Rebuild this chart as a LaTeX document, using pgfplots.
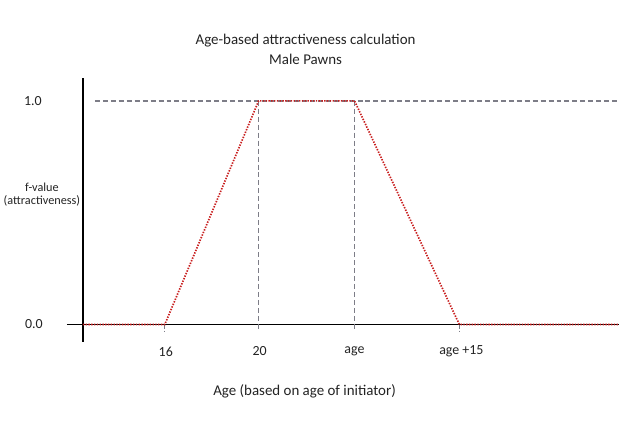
\documentclass[border=0pt]{standalone}
\usepackage{pgfplots}
\pgfplotsset{compat=1.18}
\usepackage{fontspec}
\setmainfont{Carlito}
\definecolor{dotred}{RGB}{200,30,30}
\definecolor{dashgray}{RGB}{125,125,135}
\definecolor{txt}{RGB}{35,35,35}
\begin{document}
\begin{tikzpicture}
\begin{axis}[
  scale only axis, width=620bp, height=427bp,
  xmin=0, xmax=620, ymin=-0.4554, ymax=1.4509,
  axis lines=none, clip=false,
  font=\fontsize{14}{16}\selectfont\color{txt},
]
\path (rel axis cs:0,0) rectangle (rel axis cs:1,1);
% axes
\draw[black, line width=1.8pt] (axis cs:83,1.1) -- (axis cs:83,-0.0759);
\draw[black, line width=1.2pt] (axis cs:67,0) -- (axis cs:620,0);
% gray dashed guides
\addplot[dashgray, line width=1.4pt, dash pattern=on 5pt off 3pt] coordinates {(95,1) (620,1)};
\addplot[dashgray, line width=1.4pt, dash pattern=on 5pt off 3pt] coordinates {(259,1) (259,-0.03)};
\addplot[dashgray, line width=1.4pt, dash pattern=on 5pt off 3pt] coordinates {(355,1) (355,-0.03)};
\addplot[dashgray, line width=1.2pt, dash pattern=on 4pt off 2pt] coordinates {(165,0) (165,-0.035)};
\addplot[dashgray, line width=1.2pt, dash pattern=on 4pt off 2pt] coordinates {(460,0) (460,-0.035)};
% f-value curve
\addplot[dotred, line width=1.7pt, dash pattern=on 1.4pt off 1.4pt] coordinates {
 (83,0) (165,0) (259,1) (355,1) (460,0) (620,0)};
% text
\node[font=\fontsize{15}{17}\selectfont\color{txt}] at (axis cs:306,1.2679) {Age-based attractiveness calculation};
\node[font=\fontsize{15}{17}\selectfont\color{txt}] at (axis cs:306,1.1875) {Male Pawns};
\node at (axis cs:33,1) {1.0};
\node at (axis cs:34,0.0045) {0.0};
\node[font=\fontsize{12.3}{13}\selectfont\color{txt}, align=center] at (axis cs:42,0.5804) {f-value\\(attractiveness)};
\node at (axis cs:166,-0.1205) {16};
\node at (axis cs:260,-0.1205) {20};
\node at (axis cs:355,-0.1205) {age};
\node at (axis cs:462,-0.1205) {age +15};
\node[font=\fontsize{15}{17}\selectfont\color{txt}] at (axis cs:305,-0.2991) {Age (based on age of initiator)};
\end{axis}
\end{tikzpicture}
\end{document}
